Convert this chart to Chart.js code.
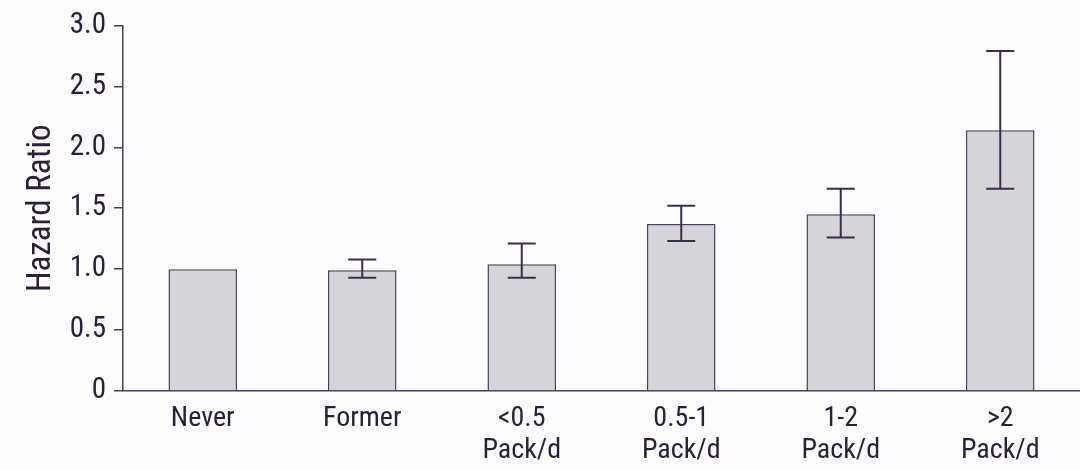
<!DOCTYPE html>
<html>
<head>
<meta charset="utf-8">
<script src="https://cdn.jsdelivr.net/npm/chart.js@4/dist/chart.umd.min.js"></script>
<style>
  html, body { margin: 0; padding: 0; background: #fdfdfd; }
  #wrap { width: 1080px; height: 470px; }
</style>
</head>
<body>
<div id="wrap"><canvas id="myChart" width="1080" height="470"></canvas></div>
<script>
// Categories (multi-line labels)
var categories = [["Never"], ["Former"], ["<0.5", "Pack/d"], ["0.5-1", "Pack/d"], ["1-2", "Pack/d"], [">2", "Pack/d"]]

// Hazard ratios and confidence interval ends
var hazardRatio = [1.0, 0.99, 1.04, 1.37, 1.45, 2.14]
var ciLower = [null, 0.93, 0.93, 1.23, 1.26, 1.66]
var ciUpper = [null, 1.08, 1.21, 1.52, 1.66, 2.79]

// Y axis ticks
var yTickValues = [0, 0.5, 1.0, 1.5, 2.0, 2.5, 3.0]
var yTickLabels = ["0", "0.5", "1.0", "1.5", "2.0", "2.5", "3.0"]

// Formatting
var textColor = "#2b2035"
var axisColor = "#4a3d57"
var barFill = "#d5d5d9"
var barEdge = "#4b3f58"
var errColor = "#3c2c4a"
var fontFamily = "'Liberation Sans Narrow', 'Arial Narrow', 'Roboto Condensed', 'Liberation Sans', sans-serif"

// Draws the error bars from the CI arrays
var errorBars = {
    id: 'errorBars',
    afterDatasetsDraw: function(chart) {
        var ctx = chart.ctx
        var meta = chart.getDatasetMeta(0)
        var y = chart.scales.y
        ctx.save()
        ctx.strokeStyle = errColor
        ctx.lineWidth = 2
        meta.data.forEach(function(bar, i) {
            if (ciLower[i] == null) return
            var x = bar.x
            var yLo = y.getPixelForValue(ciLower[i])
            var yHi = y.getPixelForValue(ciUpper[i])
            var cap = 14
            ctx.beginPath()
            ctx.moveTo(x, yLo)
            ctx.lineTo(x, yHi)
            ctx.moveTo(x - cap, yHi)
            ctx.lineTo(x + cap, yHi)
            ctx.moveTo(x - cap, yLo)
            ctx.lineTo(x + cap, yLo)
            ctx.stroke()
        })
        ctx.restore()
    }
}

const ctx = document.getElementById('myChart').getContext('2d')
Chart.defaults.font.family = fontFamily
const config = {
    type: 'bar',
    data: {
        labels: categories,
        datasets: [{
            data: hazardRatio,
            backgroundColor: barFill,
            borderColor: barEdge,
            borderWidth: 1.5,
            categoryPercentage: 1.0,
            barPercentage: 0.43
        }]
    },
    options: {
        responsive: false,
        animation: false,
        layout: {
            padding: { top: 9, right: 0, bottom: 2, left: 22 }
        },
        plugins: {
            legend: { display: false },
            tooltip: { enabled: false }
        },
        scales: {
            y: {
                min: 0,
                max: 3,
                afterBuildTicks: function(axis) {
                    axis.ticks = yTickValues.map(function(v) { return { value: v } })
                },
                afterFit: function(axis) { axis.width = 101 },
                ticks: {
                    color: textColor,
                    font: { size: 29 },
                    padding: 8,
                    callback: function(value, index) { return yTickLabels[index] }
                },
                grid: {
                    drawOnChartArea: false,
                    drawTicks: true,
                    tickLength: 9,
                    color: axisColor,
                    lineWidth: 1.5
                },
                border: { display: true, color: axisColor, width: 1.5 },
                title: {
                    display: true,
                    text: 'Hazard Ratio',
                    color: textColor,
                    font: { size: 33 },
                    padding: { top: 0, bottom: 4 }
                }
            },
            x: {
                afterFit: function(axis) { axis.height = 77 },
                ticks: {
                    color: textColor,
                    font: { size: 28, lineHeight: 1.15 },
                    padding: 4,
                    maxRotation: 0
                },
                grid: { display: false },
                border: { display: true, color: axisColor, width: 1.5 }
            }
        }
    },
    plugins: [errorBars]
}

const myChart = new Chart(ctx, config)
</script>
</body>
</html>
